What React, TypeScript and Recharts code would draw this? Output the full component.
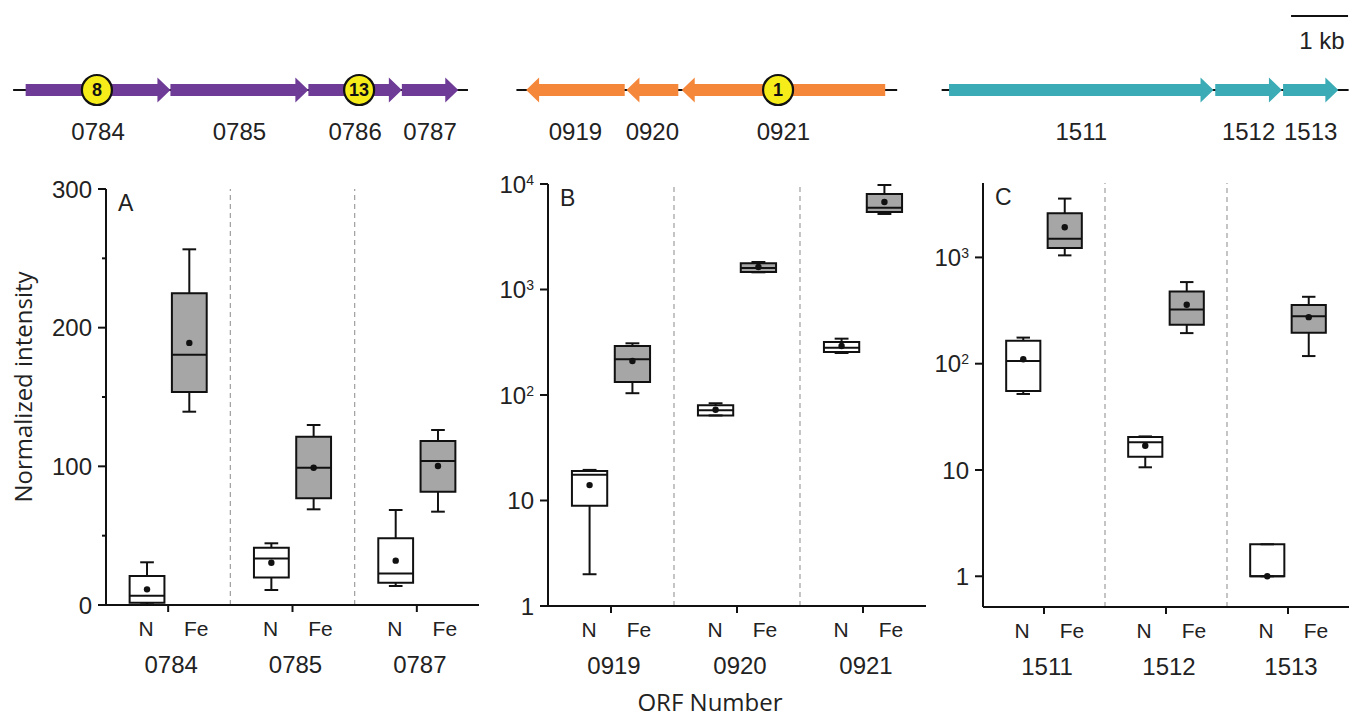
import React from 'react';
import {
  ComposedChart,
  Scatter,
  XAxis,
  YAxis,
  ReferenceArea,
  ReferenceLine,
  Label,
} from 'recharts';

const SANS = '"Liberation Sans", Arial, sans-serif';
const HUMANIST = '"Open Sans", sans-serif';

// gene maps, in kb from the left edge of the figure
const operonA = [
  {name: '0784', start: 0.45, end: 2.99, dir: 1},
  {name: '0785', start: 2.99, end: 5.41, dir: 1},
  {name: '0786', start: 5.41, end: 7.05, dir: 1},
  {name: '0787', start: 7.05, end: 8.04, dir: 1},
];
const operonB = [
  {name: '0919', start: 9.23, end: 10.96, dir: -1},
  {name: '0920', start: 10.99, end: 11.9, dir: -1},
  {name: '0921', start: 11.96, end: 15.53, dir: -1},
];
const operonC = [
  {name: '1511', start: 16.65, end: 21.29, dir: 1},
  {name: '1512', start: 21.32, end: 22.49, dir: 1},
  {name: '1513', start: 22.51, end: 23.48, dir: 1},
];
const backbones = [
  [0.23, 8.21],
  [9.06, 15.74],
  [16.52, 23.66],
];
const operonColors = ['#6e3b97', '#f5873b', '#3bacb6'];
const peptideMarks = [
  {kb: 1.7, count: '8'},
  {kb: 6.3, count: '13'},
  {kb: 13.65, count: '1'},
];
const scaleBar = [22.65, 23.65];
const MAP_KB = 1349 / 57;

// box stats: [min, q1, median, q3, max, mean]
const genesA = ['0784', '0785', '0787'];
const nStatsA = [
  [0.5, 1.7, 6.7, 20.9, 30.8, 11.3],
  [10.8, 19.9, 33.6, 41.3, 44.5, 30.5],
  [13.7, 16.1, 22.8, 48.1, 68.5, 32],
];
const feStatsA = [
  [139.4, 153.6, 180.5, 224.8, 256.5, 189],
  [69, 76.9, 99, 121.4, 129.8, 99],
  [67.3, 81.7, 103.8, 118.3, 126.2, 100.2],
];

const genesB = ['0919', '0920', '0921'];
const nStatsB = [
  [2.0, 8.9, 17.5, 19, 19.5, 14],
  [64, 64, 71.6, 80, 83.5, 72.5],
  [250, 256, 281, 318, 342, 291],
];
const feStatsB = [
  [104, 133, 218, 291, 309, 210],
  [1455, 1466, 1598, 1771, 1823, 1633],
  [5200, 5430, 5970, 8035, 9780, 6745],
];

const genesC = ['1511', '1512', '1513'];
const nStatsC = [
  [51.9, 55.4, 106, 164, 176, 110],
  [10.6, 13.3, 18.2, 20.4, 20.7, 16.9],
  [1, 1, 1, 2, 2, 1],
];
const feStatsC = [
  [1045, 1225, 1500, 2600, 3575, 1920],
  [194, 232, 324, 479, 586, 358],
  [118, 195, 280, 356, 426, 274],
];

const ticksA = [0, 50, 100, 150, 200, 250, 300];
const ticksB = [1, 10, 100, 1000, 10000];
const ticksC = [1, 10, 100, 1000];

const OFF = 0.17;
const HALF = 0.14;
const CAP = 0.055;
const INK = '#111';

const geneArrow = (dir: number, color: string) => (p: any) => {
  const {x, y, width, height} = p;
  const head = Math.min(13, width);
  const top = y + height * 0.26;
  const bot = y + height * 0.74;
  const mid = y + height / 2;
  let pts: number[][];
  if (dir > 0) {
    const hx = x + width - head;
    pts = [[x, top], [hx, top], [hx, y], [x + width, mid], [hx, y + height], [hx, bot], [x, bot]];
  } else {
    const hx = x + head;
    pts = [[x + width, top], [hx, top], [hx, y], [x, mid], [hx, y + height], [hx, bot], [x + width, bot]];
  }
  return <polygon points={pts.map((q) => q.join(',')).join(' ')} fill={color} />;
};

const MapText = (p: any) => (
  <text
    x={p.cx}
    y={p.cy}
    textAnchor='middle'
    dominantBaseline='central'
    fontSize={24}
    fontFamily={SANS}
    fill='#222'
  >
    {p.payload.name}
  </text>
);

const PeptideMark = (p: any) => (
  <g>
    <circle cx={p.cx} cy={p.cy} r={15} fill='#f5ec1a' stroke={INK} strokeWidth={2.2} />
    <text
      x={p.cx}
      y={p.cy}
      dy='0.36em'
      textAnchor='middle'
      fontSize={18}
      fontWeight={600}
      fontFamily={SANS}
      fill={INK}
    >
      {p.payload.count}
    </text>
  </g>
);

const GeneMap = () => {
  const operons = [operonA, operonB, operonC];
  const labels = operons
    .flat()
    .map((g) => ({x: (g.start + g.end) / 2, y: -1.64, name: g.name}));
  labels.push({x: 23.19, y: 2.0, name: '1 kb'});
  const marks = peptideMarks.map((m) => ({x: m.kb, y: 0, count: m.count}));

  return (
    <ComposedChart width={1349} height={150} margin={{top: 0, right: 0, bottom: 0, left: 0}}>
      <XAxis type='number' dataKey='x' domain={[0, MAP_KB]} allowDataOverflow hide height={0} />
      <YAxis type='number' dataKey='y' domain={[-2.4, 3.6]} allowDataOverflow hide width={0} />
      {backbones.map(([a, b], i) => (
        <ReferenceArea key={'bb' + i} x1={a} x2={b} y1={-0.04} y2={0.04} fill={INK} fillOpacity={1} />
      ))}
      <ReferenceArea x1={scaleBar[0]} x2={scaleBar[1]} y1={2.92} y2={3.0} fill={INK} fillOpacity={1} />
      {operons.map((op, i) =>
        op.map((g) => (
          <ReferenceArea
            key={g.name}
            x1={g.start}
            x2={g.end}
            y1={-0.5}
            y2={0.5}
            shape={geneArrow(g.dir, operonColors[i])}
          />
        )),
      )}
      <Scatter data={marks} shape={PeptideMark} isAnimationActive={false} />
      <Scatter data={labels} shape={MapText} isAnimationActive={false} />
    </ComposedChart>
  );
};

const makeYTick = (log: boolean) => (p: any) => {
  const {x, y, payload} = p;
  const v = payload.value;
  const major = log || v % 100 === 0;
  const exp = Math.round(Math.log10(v));
  return (
    <g>
      <line x1={major ? x : x + 4} x2={x + 8} y1={y} y2={y} stroke={INK} strokeWidth={2} />
      {major && (
        <text x={x - 6} y={y} dy='0.36em' textAnchor='end' fontSize={24} fontFamily={SANS} fill='#222'>
          {log && exp >= 2 ? (
            <>
              10
              <tspan dy={-8} fontSize={14}>
                {exp}
              </tspan>
            </>
          ) : (
            v
          )}
        </text>
      )}
    </g>
  );
};

const makeXTick = (genes: string[]) => (p: any) => {
  const {x, y, payload} = p;
  const gene = genes[Math.floor(payload.value)];
  return (
    <g fontFamily={SANS} fill='#222'>
      <text x={x - 22} y={y + 24} textAnchor='middle' fontSize={21}>
        N
      </text>
      <text x={x + 28} y={y + 24} textAnchor='middle' fontSize={21}>
        Fe
      </text>
      <text x={x + 3} y={y + 61} textAnchor='middle' fontSize={24}>
        {gene}
      </text>
    </g>
  );
};

type PanelProps = {
  genes: string[];
  nStats: number[][];
  feStats: number[][];
  letter: string;
  log: boolean;
  domain: number[];
  ticks: number[];
  width: number;
  margin: {top: number; right: number; bottom: number; left: number};
  yWidth: number;
  yLabel?: string;
  children?: React.ReactNode;
};

const BoxPanel = ({genes, nStats, feStats, letter, log, domain, ticks, width, margin, yWidth, yLabel, children}: PanelProps) => {
  const parts: React.ReactNode[] = [];
  const means: {x: number; y: number}[] = [];
  genes.forEach((g, i) => {
    [nStats[i], feStats[i]].forEach((s, c) => {
      const cx = i + 0.5 + (c ? OFF : -OFF);
      const [mn, q1, md, q3, mx, mean] = s;
      const k = `${g}-${c}`;
      means.push({x: cx, y: mean});
      parts.push(
        <ReferenceLine key={k + 'wu'} segment={[{x: cx, y: q3}, {x: cx, y: mx}]} stroke={INK} strokeWidth={2} />,
        <ReferenceLine key={k + 'wl'} segment={[{x: cx, y: mn}, {x: cx, y: q1}]} stroke={INK} strokeWidth={2} />,
        <ReferenceLine key={k + 'cu'} segment={[{x: cx - CAP, y: mx}, {x: cx + CAP, y: mx}]} stroke={INK} strokeWidth={2} />,
        <ReferenceLine key={k + 'cl'} segment={[{x: cx - CAP, y: mn}, {x: cx + CAP, y: mn}]} stroke={INK} strokeWidth={2} />,
        <ReferenceArea
          key={k + 'box'}
          x1={cx - HALF}
          x2={cx + HALF}
          y1={q1}
          y2={q3}
          fill={c ? '#a6a6a6' : '#ffffff'}
          fillOpacity={1}
          stroke={INK}
          strokeWidth={2}
        />,
        <ReferenceLine key={k + 'md'} segment={[{x: cx - HALF, y: md}, {x: cx + HALF, y: md}]} stroke={INK} strokeWidth={2} />,
      );
    });
  });
  const plotLeft = margin.left + yWidth;

  return (
    <ComposedChart width={width} height={720} margin={margin}>
      <XAxis
        type='number'
        dataKey='x'
        domain={[0, 3]}
        ticks={[0.5, 1.5, 2.5]}
        allowDataOverflow
        height={80}
        axisLine={{stroke: INK, strokeWidth: 2}}
        tickLine={{stroke: INK, strokeWidth: 2}}
        tickSize={7}
        tickMargin={0}
        tick={makeXTick(genes)}
      />
      <YAxis
        type='number'
        dataKey='y'
        scale={log ? 'log' : 'linear'}
        domain={domain}
        ticks={ticks}
        allowDataOverflow
        width={yWidth}
        axisLine={{stroke: INK, strokeWidth: 2}}
        tickLine={false}
        tickSize={8}
        tickMargin={0}
        tick={makeYTick(log)}
        interval={0}
      >
        {yLabel && (
          <Label
            content={(p: any) => {
              const vb = p.viewBox;
              const cx = vb.x - 14;
              const cy = vb.y + vb.height / 2 - 10;
              return (
                <text
                  x={cx}
                  y={cy}
                  transform={`rotate(-90 ${cx} ${cy})`}
                  textAnchor='middle'
                  dominantBaseline='central'
                  fontSize={24}
                  fontFamily={HUMANIST}
                  fill='#222'
                >
                  {yLabel}
                </text>
              );
            }}
          />
        )}
      </YAxis>
      <ReferenceLine x={1} stroke='#9e9e9e' strokeWidth={1.2} strokeDasharray='5 4' />
      <ReferenceLine x={2} stroke='#9e9e9e' strokeWidth={1.2} strokeDasharray='5 4' />
      {parts}
      <Scatter
        data={means}
        isAnimationActive={false}
        shape={(p: any) => <circle cx={p.cx} cy={p.cy} r={3.2} fill={INK} />}
      />
      <text x={plotLeft + 12} y={margin.top + 22} fontSize={23} fontFamily={SANS} fill='#222'>
        {letter}
      </text>
      {children}
    </ComposedChart>
  );
};

export default function App() {
  return (
    <div style={{position: 'absolute', left: 0, top: 0, width: 1349, height: 720, background: '#fff', overflow: 'hidden'}}>
      <div style={{position: 'absolute', left: 0, top: 0}}>
        <GeneMap />
      </div>
      <div style={{position: 'absolute', left: 0, top: 0}}>
        <BoxPanel
          genes={genesA}
          nStats={nStatsA}
          feStats={feStatsA}
          letter='A'
          log={false}
          domain={[0, 300]}
          ticks={ticksA}
          width={490}
          margin={{top: 189, right: 11, bottom: 35, left: 36}}
          yWidth={70}
          yLabel='Normalized intensity'
        />
      </div>
      <div style={{position: 'absolute', left: 490, top: 0}}>
        <BoxPanel
          genes={genesB}
          nStats={nStatsB}
          feStats={feStatsB}
          letter='B'
          log
          domain={[1, 10000]}
          ticks={ticksB}
          width={440}
          margin={{top: 184, right: 4, bottom: 34, left: 8}}
          yWidth={50}
        >
          <text x={220} y={711} textAnchor='middle' fontSize={24} fontFamily={HUMANIST} fill='#222'>
            ORF Number
          </text>
        </BoxPanel>
      </div>
      <div style={{position: 'absolute', left: 930, top: 0}}>
        <BoxPanel
          genes={genesC}
          nStats={nStatsC}
          feStats={feStatsC}
          letter='C'
          log
          domain={[0.514, 5012]}
          ticks={ticksC}
          width={419}
          margin={{top: 183, right: 0, bottom: 33, left: 3}}
          yWidth={50}
        />
      </div>
    </div>
  );
}
